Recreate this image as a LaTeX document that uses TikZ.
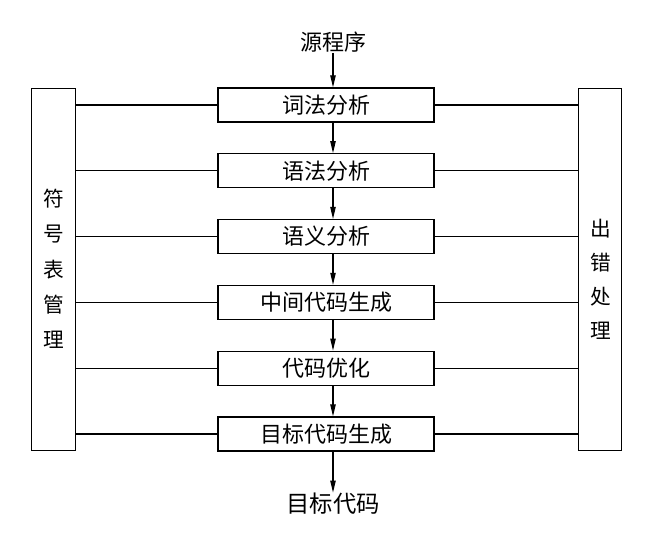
\documentclass[tikz,border=0pt]{standalone}
\usepackage{fontspec}
\newfontfamily\cjk{Noto Sans CJK SC}
\usetikzlibrary{positioning, arrows.meta}

\begin{document}
\begin{tikzpicture}[
    x=0.75pt, y=-0.75pt,
    node distance=22.95pt,
    line width=0.9pt,
    every node/.style={font=\cjk\fontsize{16.5}{18}\selectfont, inner sep=0pt}, % all labels in the same CJK face
    stage/.style={draw, minimum width=162pt, minimum height=25.5pt},
    side/.style={draw, minimum width=32.5pt, minimum height=272pt},
    flow/.style={-{Triangle[length=9pt,width=4pt]}}
]
\useasboundingbox (0,0) rectangle (663,541);
% the passes
\node[stage] (cffx) at (326,105) {词法分析};
\node[stage] (yfa) [below=of cffx] {语法分析};
\node[stage] (yyi) [below=of yfa] {语义分析};
\node[stage] (zjdm) [below=of yyi] {中间代码生成};
\node[stage] (yh) [below=of zjdm] {代码优化};
\node[stage] (mbsc) [below=of yh] {目标代码生成};
% input and output
\node (src) at (333,42) {源程序};
\node[font=\cjk\fontsize{17.5}{18}\selectfont] (obj) at (333,504) {目标代码};
% the two side boxes
\node[side] (sym) at (53.5,269.5) {};
\node[align=center, font=\cjk\fontsize{15.5}{18}\selectfont] (symtxt) at (53.5,269) {符\\[8.5pt]号\\[8.5pt]表\\[8.5pt]管\\[8.5pt]理};
\node[side] (err) at (600,269.5) {};
\node[align=center, font=\cjk\fontsize{15.5}{18}\selectfont] (errtxt) at (601,279) {出\\[7.5pt]错\\[7.5pt]处\\[7.5pt]理};
% the flow
\draw[flow] (src) -- (cffx.north -| src);
\draw[flow] (cffx.south -| src) -- (yfa.north -| src);
\draw[flow] (yfa.south -| src) -- (yyi.north -| src);
\draw[flow] (yyi.south -| src) -- (zjdm.north -| src);
\draw[flow] (zjdm.south -| src) -- (yh.north -| src);
\draw[flow] (yh.south -| src) -- (mbsc.north -| src);
\draw[flow] (mbsc.south -| src) -- (obj);
% links to the side boxes
\draw (sym.east |- cffx) -- (cffx.west)  (cffx.east) -- (err.west |- cffx);
\draw (sym.east |- yfa) -- (yfa.west)  (yfa.east) -- (err.west |- yfa);
\draw (sym.east |- yyi) -- (yyi.west)  (yyi.east) -- (err.west |- yyi);
\draw (sym.east |- zjdm) -- (zjdm.west)  (zjdm.east) -- (err.west |- zjdm);
\draw (sym.east |- yh) -- (yh.west)  (yh.east) -- (err.west |- yh);
\draw (sym.east |- mbsc) -- (mbsc.west)  (mbsc.east) -- (err.west |- mbsc);
\end{tikzpicture}
\end{document}
